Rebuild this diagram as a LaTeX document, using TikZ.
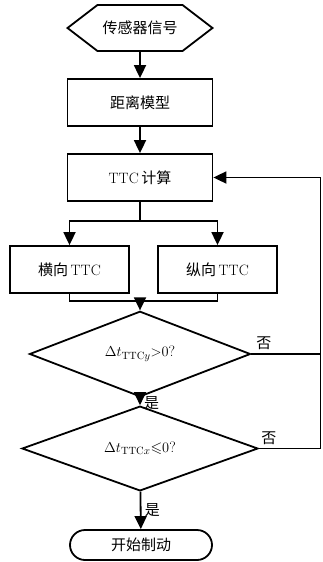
\documentclass[tikz,border=0pt]{standalone}
\usepackage{amsmath}
\usepackage{amssymb}
\usepackage{fontspec}
\usetikzlibrary{arrows.meta,shapes.geometric,shapes.misc,shapes.symbols}
\newfontfamily\cjk{Noto Sans CJK SC}

\begin{document}
\begin{tikzpicture}[x=1pt,y=-1pt,
		box/.style={draw,line width=1.8pt,minimum width=145pt,minimum height=47pt,inner sep=0pt,font=\fontsize{15}{17}\selectfont},
		smallbox/.style={box,minimum width=119pt},
		cond/.style={draw,diamond,line width=1.8pt,inner sep=0pt,minimum height=66pt,font=\fontsize{15}{17}\selectfont},
		arr/.style={line width=1.8pt,-{Triangle[width=12pt,length=13pt]}},
		ln/.style={line width=1.8pt},
		lbl/.style={font=\fontsize{15}{17}\selectfont\cjk}]
		\useasboundingbox (0,0) rectangle (322,562);
		%
		\node[draw,signal,signal to=east and west,signal pointer angle=75,line width=1.8pt,minimum width=145pt,minimum height=46pt,inner sep=0pt,font=\fontsize{15}{17}\selectfont] (sensor) at (140,28) {\cjk 传感器信号};
		\node[box] (model) at (140,102.5) {\cjk 距离模型};
		\node[box] (ttc) at (140,177.5) {TTC\,{\cjk 计算}};
		\coordinate (split) at (140,221);
		\node[smallbox] (lat) at (69.5,269.5) {{\cjk 横向}\,TTC};
		\node[smallbox] (lon) at (217.5,269.5) {{\cjk 纵向}\,TTC};
		\coordinate (merge) at (140,301);
		\node[cond,minimum width=221pt] (chky) at (140,354) {$\Delta t_{\mathrm{TTC}y}{>}0$?};
		\node[cond,minimum width=236pt,minimum height=67pt] (chkx) at (140,448.5) {$\Delta t_{\mathrm{TTC}x}{\leqslant}0$?};
		\node[draw,rounded rectangle,line width=1.8pt,minimum width=142pt,minimum height=30pt,inner sep=0pt,font=\fontsize{15}{17}\selectfont] (brake) at (141,545) {\cjk 开始制动};
		\coordinate (back) at (320.5,177.5);
		%
		\draw[arr] (sensor) -- (model);
		\draw[arr] (model) -- (ttc);
		\draw[ln] (ttc) -- (split);
		\draw[arr] (split) -| (lat.north);
		\draw[arr] (split) -| (lon.north);
		\draw[ln] (lat) |- (merge);
		\draw[ln] (lon) |- (merge);
		\draw[arr] (merge) -- (chky);
		\draw[arr] (chky) -- node[lbl,right,pos=0.7] {是} (chkx);
		\draw[arr] (chkx) -- node[lbl,right] {是} (brake);
		\draw[ln] (chky.east) -- node[lbl,above,pos=0.18] {否} (chky.east -| back);
		\draw[arr] (chkx.east) -- node[lbl,above,pos=0.16] {否} (chkx.east -| back) -- (back) -- (ttc.east);
	\end{tikzpicture}
\end{document}
